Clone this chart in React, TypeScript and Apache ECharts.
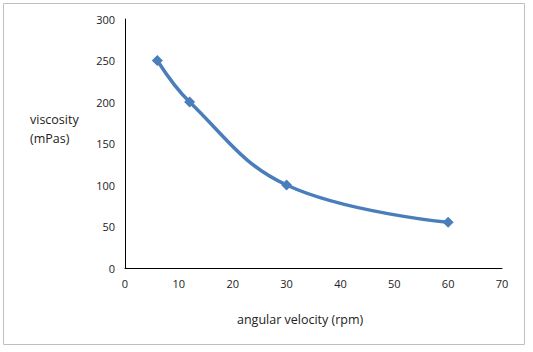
import React, { useEffect, useRef } from "react";
import * as echarts from "echarts";

const xValues = [6, 12, 30, 60];
const viscosity = [250, 200, 100, 55];
const xTitle = "angular velocity (rpm)";
const yTitle = "viscosity\n(mPas)";

export default function App() {
  const ref = useRef<HTMLDivElement>(null);
  useEffect(() => {
    document.body.style.margin = "0";
    const chart = echarts.init(ref.current!, null, { renderer: "svg" });
    const font = "Open Sans, Lato, sans-serif";
    chart.setOption({
      animation: false,
      backgroundColor: "#fff",
      grid: { left: 125, right: 31, top: 19, bottom: 84 },
      graphic: [
        {
          type: "rect",
          shape: { x: 3.5, y: 3.5, width: 521, height: 341 },
          style: { fill: "none", stroke: "#BFBFBF", lineWidth: 1 },
          silent: true,
        },
        {
          type: "text",
          left: 30,
          top: 110,
          style: { text: yTitle, font: `12.5px ${font}`, fill: "#222", lineHeight: 19 },
        },
        {
          type: "text",
          left: 237,
          top: 313,
          style: { text: xTitle, font: `12.5px ${font}`, fill: "#222" },
        },
      ],
      xAxis: {
        type: "value",
        min: 0,
        max: 70,
        interval: 10,
        axisLine: { show: true, lineStyle: { color: "#000", width: 1 } },
        axisTick: { show: false },
        splitLine: { show: false },
        axisLabel: { fontFamily: font, fontSize: 11, color: "#222", margin: 10 },
      },
      yAxis: {
        type: "value",
        min: 0,
        max: 300,
        interval: 50,
        axisLine: { show: true, lineStyle: { color: "#000", width: 1 } },
        axisTick: { show: false },
        splitLine: { show: false },
        axisLabel: { fontFamily: font, fontSize: 11, color: "#222", margin: 10 },
      },
      series: [
        {
          type: "line",
          data: xValues.map((x, i) => [x, viscosity[i]]),
          smooth: 0.4,
          symbol: "diamond",
          symbolSize: 11,
          lineStyle: { color: "#4A7EBB", width: 3.5 },
          itemStyle: { color: "#4A7EBB" },
        },
      ],
    });
    return () => chart.dispose();
  }, []);
  return <div ref={ref} style={{ width: 533, height: 352 }} />;
}
